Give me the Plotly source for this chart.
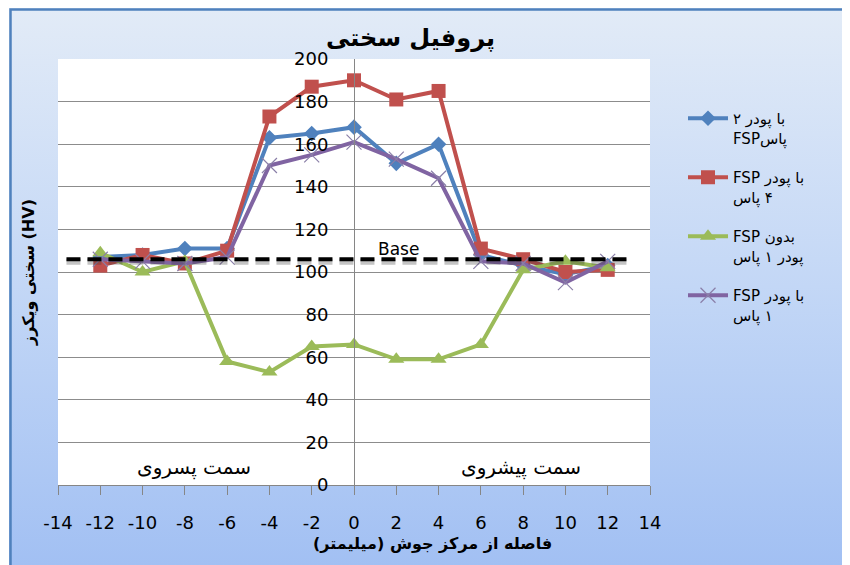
import base64
import plotly.graph_objects as go

# ---------------- data ----------------
x_mm = [-12, -10, -8, -6, -4, -2, 0, 2, 4, 6, 8, 10, 12]

pass2_fsp = [107, 108, 111, 111, 163, 165, 168, 151, 160, 108, 103, 99, 103]
pass4_fsp = [103, 108, 104, 110, 173, 187, 190, 181, 185, 111, 106, 100, 101]
no_powder_1pass = [109, 100, 105, 58, 53, 65, 66, 59, 59, 66, 101, 105, 102]
pass1_fsp = [106, 105, 104, 107, 150, 155, 161, 153, 144, 105, 104, 95, 105]

RLE, PDF = "\u202b", "\u202c"  # right-to-left embedding for mixed Persian/Latin lines


def rtl(s):
    return RLE + s + PDF


series_lines = [
    ["با پودر ۲", "پاسFSP"],
    ["با پودر FSP", "۴ پاس"],
    ["بدون FSP", "پودر ۱ پاس"],
    ["با پودر FSP", "۱ پاس"],
]
series_names = ["<br>".join(rtl(s) for s in lines) for lines in series_lines]
series_colors = ["#4f81bd", "#c0504d", "#9bbb59", "#8064a2"]
series_symbols = ["diamond", "square", "triangle-up", "x-thin"]
series_sizes = [12, 14, 14, 15]

base_level = 106
base_x = [-13.6, 13.2]

x_ticks = list(range(-14, 15, 2))
y_ticks = list(range(0, 201, 20))

title_text = "پروفیل سختی"
x_title = "فاصله از مرکز جوش (میلیمتر)"
y_title = "سختی ویکرز (HV)"
left_label = "سمت پسروی"
right_label = "سمت پیشروی"
base_label = "Base"

# ---------------- geometry (page pixels -> figure) ----------------
OFF = 8  # page body margin
W, H = 842, 557
L, R, T, B = 50, 200, 51, 80
PW = W - L - R
PH = H - T - B


def px_x(p):
    return (p - OFF - L) / PW


def px_y(q):
    return (H - B - (q - OFF)) / PH


FONT = "DejaVu Sans, sans-serif"

fig = go.Figure()

all_series = [pass2_fsp, pass4_fsp, no_powder_1pass, pass1_fsp]
for i, ys in enumerate(all_series):
    is_x = series_symbols[i] == "x-thin"
    fig.add_trace(go.Scatter(
        x=x_mm, y=ys, name=series_names[i], mode="lines+markers",
        line=dict(color=series_colors[i], width=4),
        marker=dict(symbol=series_symbols[i], size=series_sizes[i],
                    color=series_colors[i],
                    line=dict(color="#8a7fa8" if is_x else series_colors[i],
                              width=1.2 if is_x else 0)),
        legendgroup=f"g{i}",
    ))

# gradient chart background with blue frame (top/left)
svg = (
    "<svg xmlns='http://www.w3.org/2000/svg' width='841' height='557' "
    "viewBox='0 0 841 557' preserveAspectRatio='none'>"
    "<defs><linearGradient id='g' x1='0' y1='0' x2='0' y2='1'>"
    "<stop offset='0' stop-color='#e2ebf7'/>"
    "<stop offset='0.5' stop-color='#c3d7f6'/>"
    "<stop offset='1' stop-color='#a2c0f3'/></linearGradient></defs>"
    "<rect width='841' height='557' fill='url(#g)'/>"
    "<path d='M1.5 557 L1.5 1.5 L841 1.5' stroke='#4f81bd' stroke-width='2.5' fill='none'/>"
    "</svg>"
)
src = "data:image/svg+xml;base64," + base64.b64encode(svg.encode()).decode()

fig.add_layout_image(dict(
    source=src, xref="paper", yref="paper",
    x=px_x(9), y=px_y(8), sizex=841 / PW, sizey=557 / PH,
    xanchor="left", yanchor="top", sizing="stretch", layer="below",
))

shapes = [
    dict(type="rect", xref="paper", yref="paper", x0=0, x1=1, y0=0, y1=1,
         fillcolor="white", line=dict(width=0), layer="below"),
    dict(type="line", xref="x", yref="y", x0=base_x[0], x1=base_x[1],
         y0=base_level - 1.2, y1=base_level - 1.2,
         line=dict(color="rgba(60,60,60,0.3)", width=6, dash="14px,7px"),
         layer="above"),
    dict(type="line", xref="x", yref="y", x0=base_x[0], x1=base_x[1],
         y0=base_level, y1=base_level,
         line=dict(color="black", width=4, dash="14px,7px"), layer="above"),
]

annotations = [
    dict(text=title_text, xref="paper", yref="paper", x=px_x(410), y=px_y(38),
         xanchor="center", yanchor="middle", showarrow=False,
         font=dict(family=FONT, size=24, color="black", weight="bold")),
    dict(text=x_title, xref="paper", yref="paper", x=px_x(432), y=px_y(543),
         xanchor="center", yanchor="middle", showarrow=False,
         font=dict(family=FONT, size=16, color="black", weight="bold")),
    dict(text=y_title, xref="paper", yref="paper", x=px_x(28), y=px_y(273),
         xanchor="center", yanchor="middle", textangle=-90, showarrow=False,
         font=dict(family=FONT, size=16, color="black", weight="bold")),
    dict(text=base_label, xref="x", yref="y", x=2.1, y=111, showarrow=False,
         font=dict(family=FONT, size=17, color="black")),
    dict(text=left_label, xref="x", yref="y", x=-7.55, y=8, showarrow=False,
         font=dict(family=FONT, size=20, color="black")),
    dict(text=right_label, xref="x", yref="y", x=7.9, y=8, showarrow=False,
         font=dict(family=FONT, size=20, color="black")),
]

fig.update_layout(
    width=W, height=H,
    margin=dict(l=L, r=R, t=T, b=B),
    paper_bgcolor="white", plot_bgcolor="white",
    font=dict(family=FONT, color="black"),
    showlegend=True,
    legend=dict(x=px_x(683), y=px_y(102), xanchor="left", yanchor="top",
                bgcolor="rgba(0,0,0,0)", font=dict(family=FONT, size=15, color="black"),
                valign="top", tracegroupgap=17, traceorder="grouped", itemwidth=40),
    xaxis=dict(range=[-14, 14], tickvals=x_ticks, ticktext=[str(v) for v in x_ticks],
               showgrid=False, zeroline=False, showline=True, linecolor="#868686",
               linewidth=1, ticks="outside", ticklen=9, tickcolor="#868686",
               ticklabelstandoff=12, tickfont=dict(family=FONT, size=18, color="black")),
    yaxis=dict(range=[0, 200], tickvals=y_ticks, ticktext=[str(v) for v in y_ticks],
               showgrid=True, gridcolor="#8c8c8c", gridwidth=1, zeroline=False,
               showline=True, linecolor="#868686", linewidth=1,
               anchor="free", position=0.5, ticks="", ticklabelstandoff=22,
               tickfont=dict(family=FONT, size=18, color="black")),
    shapes=shapes, annotations=annotations,
)

fig.write_html("out.html")
